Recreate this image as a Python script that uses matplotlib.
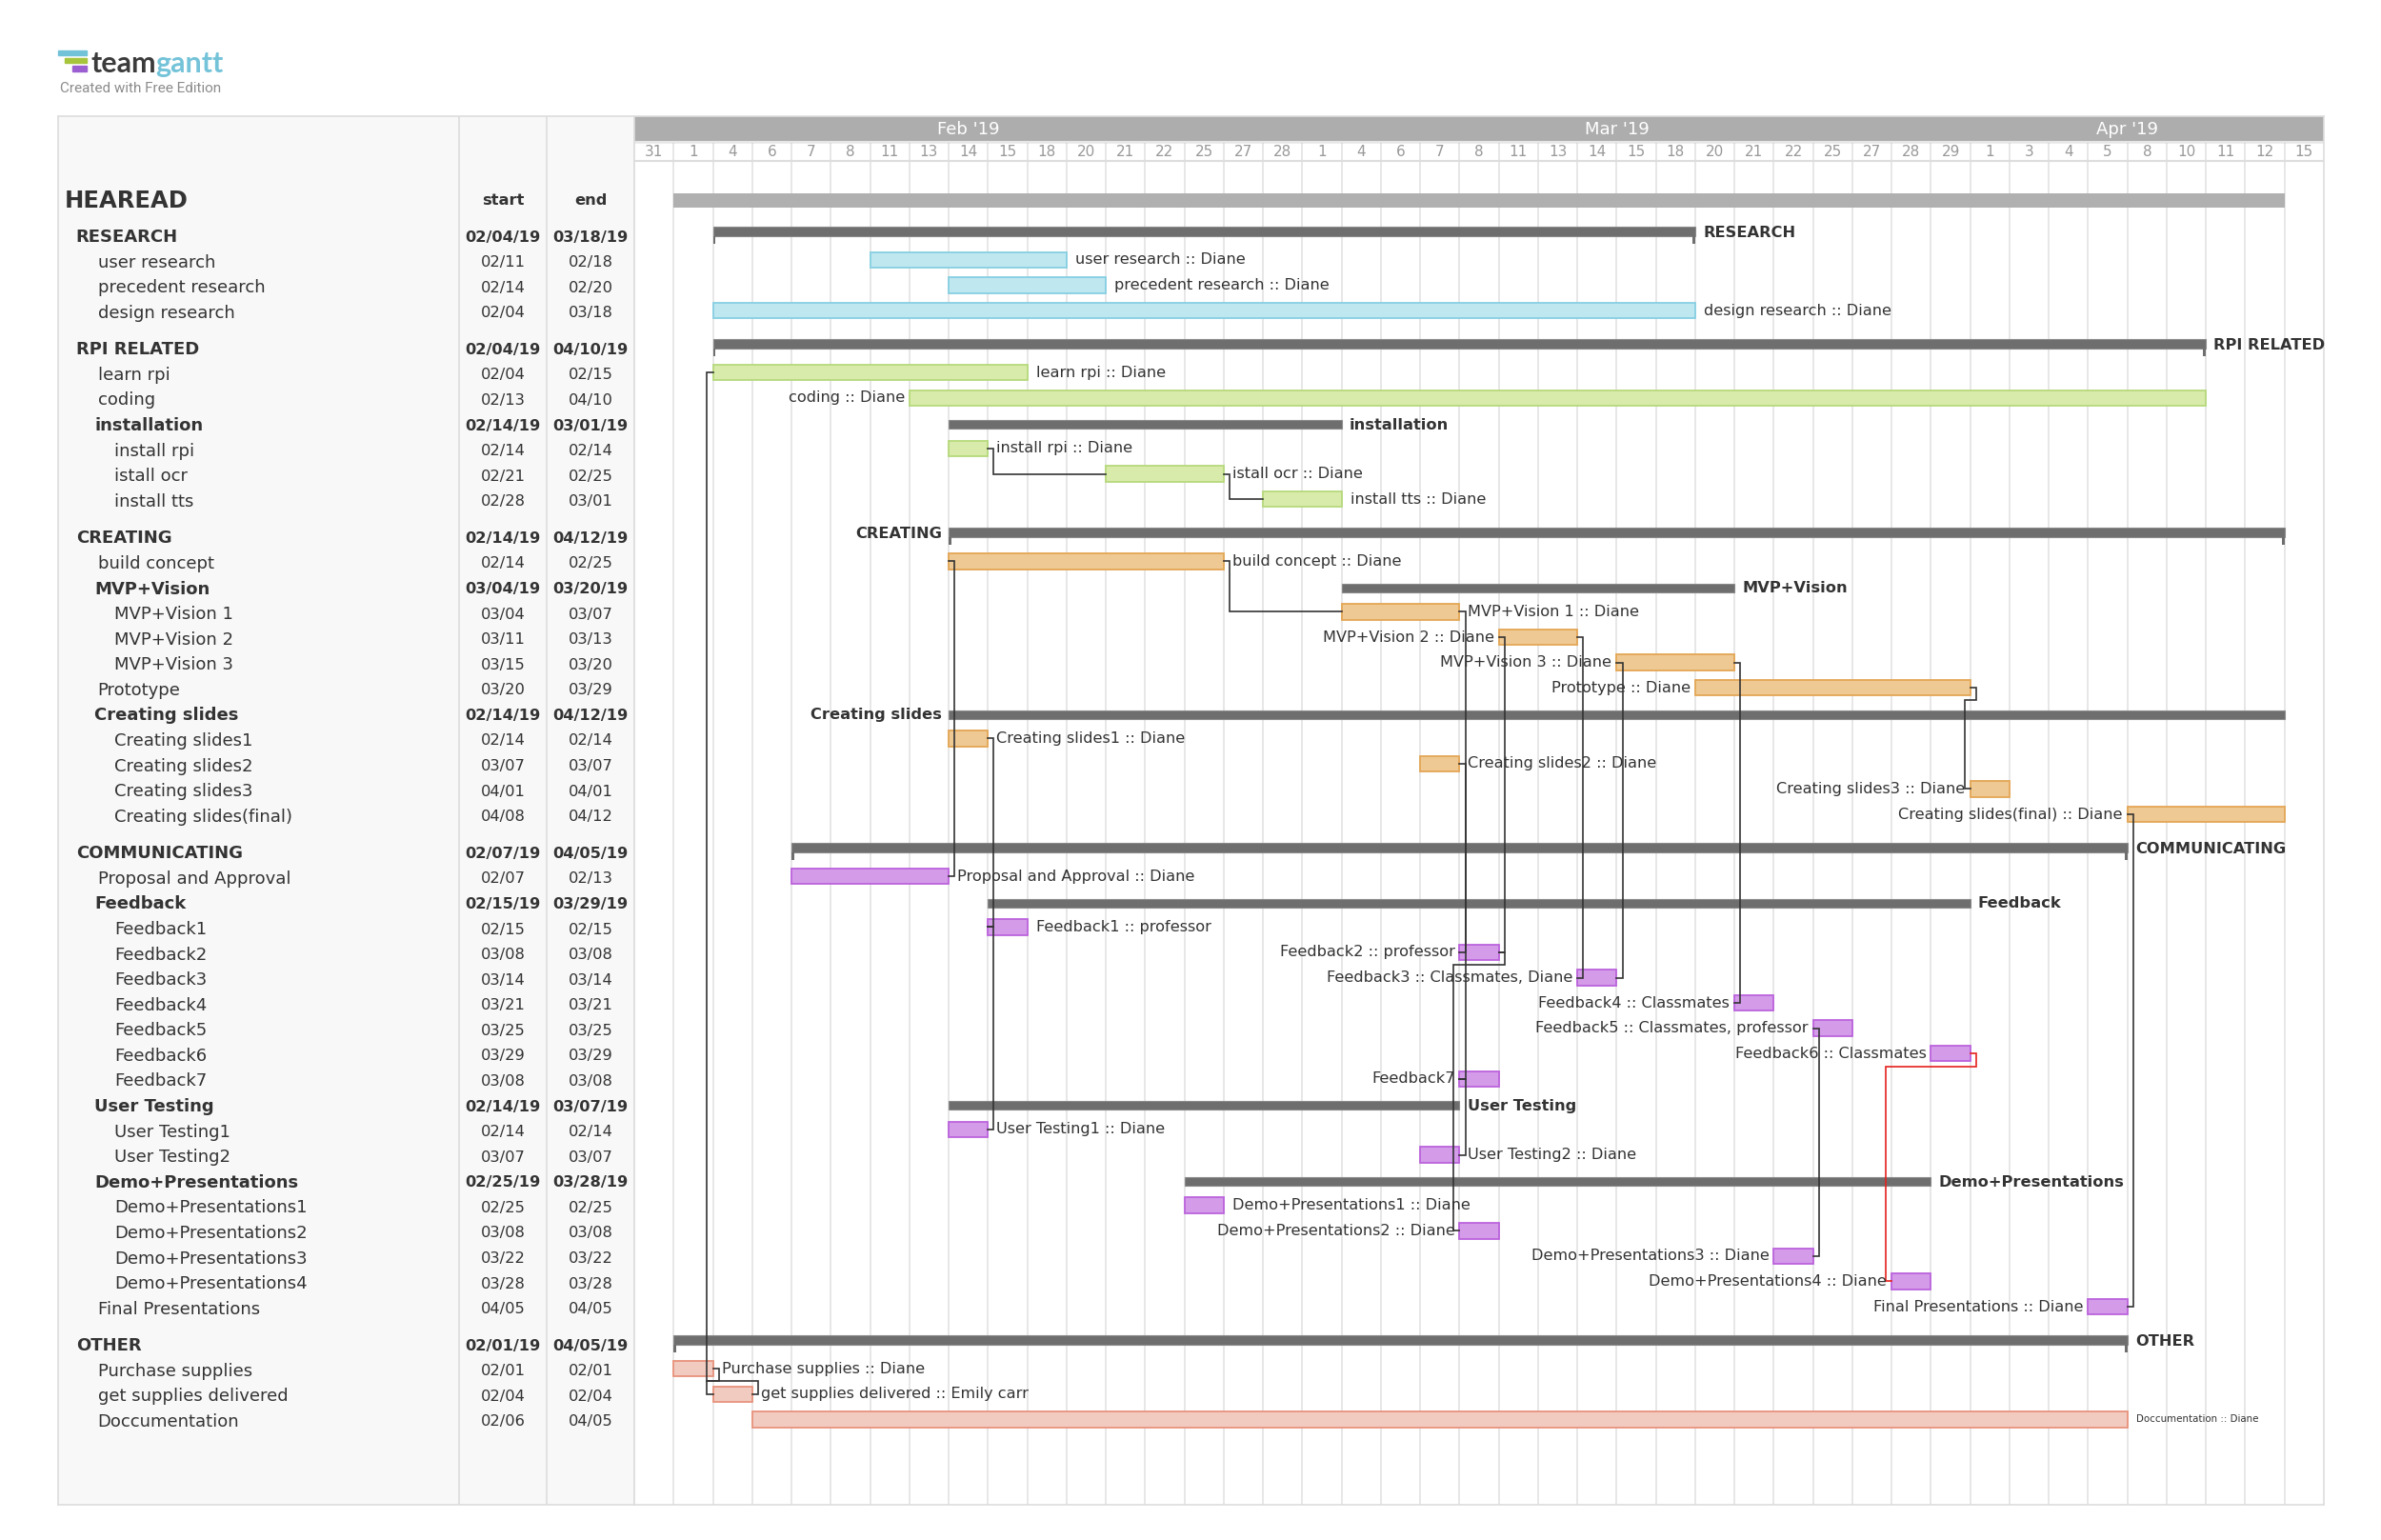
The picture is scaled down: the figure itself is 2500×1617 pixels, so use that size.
import matplotlib
matplotlib.use('Agg')
import matplotlib.pyplot as plt
from matplotlib.patches import Rectangle

# timeline columns (teamgantt only shows these dates)
col_dates = ['01/31', '02/01', '02/04', '02/06', '02/07', '02/08', '02/11', '02/13', '02/14', '02/15',
             '02/18', '02/20', '02/21', '02/22', '02/25', '02/27', '02/28',
             '03/01', '03/04', '03/06', '03/07', '03/08', '03/11', '03/13', '03/14', '03/15',
             '03/18', '03/20', '03/21', '03/22', '03/25', '03/27', '03/28', '03/29',
             '04/01', '04/03', '04/04', '04/05', '04/08', '04/10', '04/11', '04/12', '04/15']
month_names = ["Feb '19", "Mar '19", "Apr '19"]
month_pos = [8.5, 25.0, 38.0]

names = ['HEAREAD',
         'RESEARCH', 'user research', 'precedent research', 'design research',
         'RPI RELATED', 'learn rpi', 'coding', 'installation', 'install rpi', 'istall ocr', 'install tts',
         'CREATING', 'build concept', 'MVP+Vision', 'MVP+Vision 1', 'MVP+Vision 2', 'MVP+Vision 3',
         'Prototype', 'Creating slides', 'Creating slides1', 'Creating slides2', 'Creating slides3',
         'Creating slides(final)',
         'COMMUNICATING', 'Proposal and Approval', 'Feedback', 'Feedback1', 'Feedback2', 'Feedback3',
         'Feedback4', 'Feedback5', 'Feedback6', 'Feedback7', 'User Testing', 'User Testing1',
         'User Testing2', 'Demo+Presentations', 'Demo+Presentations1', 'Demo+Presentations2',
         'Demo+Presentations3', 'Demo+Presentations4', 'Final Presentations',
         'OTHER', 'Purchase supplies', 'get supplies delivered', 'Doccumentation']
kinds = ['P',
         'G', 'T1', 'T1', 'T1',
         'G', 'T1', 'T1', 'S', 'T2', 'T2', 'T2',
         'G', 'T1', 'S', 'T2', 'T2', 'T2',
         'T1', 'S', 'T2', 'T2', 'T2', 'T2',
         'G', 'T1', 'S', 'T2', 'T2', 'T2',
         'T2', 'T2', 'T2', 'T2', 'S', 'T2',
         'T2', 'S', 'T2', 'T2',
         'T2', 'T2', 'T1',
         'G', 'T1', 'T1', 'T1']
starts = ['02/01',
          '02/04', '02/11', '02/14', '02/04',
          '02/04', '02/04', '02/13', '02/14', '02/14', '02/21', '02/28',
          '02/14', '02/14', '03/04', '03/04', '03/11', '03/15',
          '03/20', '02/14', '02/14', '03/07', '04/01', '04/08',
          '02/07', '02/07', '02/15', '02/15', '03/08', '03/14',
          '03/21', '03/25', '03/29', '03/08', '02/14', '02/14',
          '03/07', '02/25', '02/25', '03/08',
          '03/22', '03/28', '04/05',
          '02/01', '02/01', '02/04', '02/06']
ends = ['04/12',
        '03/18', '02/18', '02/20', '03/18',
        '04/10', '02/15', '04/10', '03/01', '02/14', '02/25', '03/01',
        '04/12', '02/25', '03/20', '03/07', '03/13', '03/20',
        '03/29', '04/12', '02/14', '03/07', '04/01', '04/12',
        '04/05', '02/13', '03/29', '02/15', '03/08', '03/14',
        '03/21', '03/25', '03/29', '03/08', '03/07', '02/14',
        '03/07', '03/28', '02/25', '03/08',
        '03/22', '03/28', '04/05',
        '04/05', '02/01', '02/04', '04/05']
who = ['',
       '', 'Diane', 'Diane', 'Diane',
       '', 'Diane', 'Diane', '', 'Diane', 'Diane', 'Diane',
       '', 'Diane', '', 'Diane', 'Diane', 'Diane',
       'Diane', '', 'Diane', 'Diane', 'Diane', 'Diane',
       '', 'Diane', '', 'professor', 'professor', 'Classmates, Diane',
       'Classmates', 'Classmates, professor', 'Classmates', '', '', 'Diane',
       'Diane', '', 'Diane', 'Diane',
       'Diane', 'Diane', 'Diane',
       '', 'Diane', 'Emily carr', 'Diane']
sides = ['r',
         'r', 'r', 'r', 'r',
         'r', 'r', 'l', 'r', 'r', 'r', 'r',
         'l', 'r', 'r', 'r', 'l', 'l',
         'l', 'l', 'r', 'r', 'l', 'l',
         'r', 'r', 'r', 'r', 'l', 'l',
         'l', 'l', 'l', 'l', 'r', 'r',
         'r', 'r', 'r', 'l',
         'l', 'l', 'l',
         'r', 'r', 'r', 'r']

group_fill = {'RESEARCH': '#bfe7f0', 'RPI RELATED': '#d9ebaa', 'CREATING': '#efc994',
              'COMMUNICATING': '#d49be9', 'OTHER': '#f2cbc0'}
group_edge = {'RESEARCH': '#86cfe2', 'RPI RELATED': '#b6d97c', 'CREATING': '#e3a655',
              'COMMUNICATING': '#bb63dc', 'OTHER': '#e8927c'}

# dependencies: from, to, route (f = straight down/up, b = around), colour
links = [('Purchase supplies', 'get supplies delivered', 'b', '#333333'),
         ('get supplies delivered', 'learn rpi', 'b', '#333333'),
         ('install rpi', 'istall ocr', 'f', '#333333'),
         ('istall ocr', 'install tts', 'f', '#333333'),
         ('build concept', 'MVP+Vision 1', 'f', '#333333'),
         ('Proposal and Approval', 'build concept', 'f', '#333333'),
         ('Creating slides1', 'Feedback1', 'f', '#333333'),
         ('User Testing1', 'Feedback1', 'f', '#333333'),
         ('MVP+Vision 1', 'Feedback2', 'f', '#333333'),
         ('Creating slides2', 'Feedback7', 'f', '#333333'),
         ('User Testing2', 'Feedback7', 'f', '#333333'),
         ('Feedback2', 'Demo+Presentations2', 'b', '#333333'),
         ('Feedback2', 'MVP+Vision 2', 'f', '#333333'),
         ('MVP+Vision 2', 'Feedback3', 'f', '#333333'),
         ('Feedback3', 'MVP+Vision 3', 'f', '#333333'),
         ('MVP+Vision 3', 'Feedback4', 'f', '#333333'),
         ('Prototype', 'Creating slides3', 'b', '#333333'),
         ('Demo+Presentations3', 'Feedback5', 'f', '#333333'),
         ('Final Presentations', 'Creating slides(final)', 'f', '#333333'),
         ('Feedback6', 'Demo+Presentations4', 'b', '#e5211d')]

# ---- layout ----
W, H = 2500, 1617
ROW, Y0 = 26.58, 210.5
TOP, BOT = 122, 1580
ytop = (TOP - Y0) / ROW
ybot = (BOT - Y0) / ROW
TXT = '#333333'

fig = plt.figure(figsize=(W / 100, H / 100), dpi=100)
fig.patch.set_facecolor('white')


def fx(p):
    return p / W


def fy(p):
    return 1 - p / H


col = {d: i for i, d in enumerate(col_dates)}
ncol = len(col_dates)

row_y = []
y = 0.0
for i, k in enumerate(kinds):
    if i > 0:
        y += 1.45 if k == 'G' else 1.0
    row_y.append(y)

panel = fig.add_axes([fx(61), fy(BOT), fx(666) - fx(61), fy(TOP) - fy(BOT)])
tl = fig.add_axes([fx(666), fy(BOT), fx(2440) - fx(666), fy(TOP) - fy(BOT)])
for ax in (panel, tl):
    ax.set_ylim(ybot, ytop)
    ax.set_xticks([])
    ax.set_yticks([])
    for s in ax.spines.values():
        s.set_color('#dddddd')
        s.set_linewidth(1.2)
panel.set_xlim(0, 1)
panel.set_facecolor('#f8f8f8')
tl.set_xlim(0, ncol)

# ---- left table ----
panel.axvline(0.696, color='#dddddd', lw=1.2)
panel.axvline(0.848, color='#dddddd', lw=1.2)
indent = {'P': 0.0116, 'G': 0.031, 'S': 0.063, 'T1': 0.069, 'T2': 0.0975}
for i, name in enumerate(names):
    k = kinds[i]
    yy = row_y[i]
    if k == 'P':
        panel.text(indent[k], yy, name, fontsize=17.5, fontweight='bold', color=TXT, va='center')
        panel.text(0.772, yy, 'start', fontsize=11.7, fontweight='bold', color=TXT, va='center', ha='center')
        panel.text(0.924, yy, 'end', fontsize=11.7, fontweight='bold', color=TXT, va='center', ha='center')
    elif k in ('G', 'S'):
        panel.text(indent[k], yy, name, fontsize=13, fontweight='bold', color=TXT, va='center')
        panel.text(0.772, yy, starts[i] + '/19', fontsize=11.7, fontweight='bold', color=TXT, va='center', ha='center')
        panel.text(0.924, yy, ends[i] + '/19', fontsize=11.7, fontweight='bold', color=TXT, va='center', ha='center')
    else:
        panel.text(indent[k], yy, name, fontsize=13, color=TXT, va='center')
        panel.text(0.772, yy, starts[i], fontsize=11.7, color=TXT, va='center', ha='center')
        panel.text(0.924, yy, ends[i], fontsize=11.7, color=TXT, va='center', ha='center')

# ---- timeline header ----
mb = -2.30
db = -1.55
tl.add_patch(Rectangle((0, ytop), ncol, mb - ytop, color='#adadad', zorder=1))
for m, p in zip(month_names, month_pos):
    tl.text(p, (ytop + mb) / 2, m, color='white', fontsize=13, ha='center', va='center', zorder=2)
tl.axhline(mb, color='#e6e6e6', lw=1.5, zorder=1)
tl.axhline(db, color='#dddddd', lw=1.5, zorder=1)
for i, d in enumerate(col_dates):
    tl.text(i + 0.5, (mb + db) / 2, str(int(d[3:])), color='#999999', fontsize=11,
            ha='center', va='center')
tl.vlines(range(1, ncol), mb, ybot, color='#e3e3e3', lw=1.2, zorder=0)

# ---- bars ----
fill, edge = '#cccccc', '#999999'
ends_x = {}
starts_x = {}
for i, name in enumerate(names):
    k = kinds[i]
    yy = row_y[i]
    xs = col[starts[i]]
    xe = col[ends[i]] + 1
    starts_x[name] = xs
    ends_x[name] = xe
    if k == 'G':
        fill, edge = group_fill[name], group_edge[name]
    if k == 'P':
        tl.barh(yy, xe - xs, left=xs, height=0.55, color='#b0b0b0', zorder=2)
        continue
    if k == 'G':
        tl.barh(yy - 0.23, xe - xs, left=xs, height=0.37, color='#6e6e6e',
                edgecolor='#8a8a8a', lw=0.8, zorder=2)
        tl.barh(yy + 0.11, 0.07, left=xs, height=0.31, color='#6e6e6e', zorder=2)
        tl.barh(yy + 0.11, 0.07, left=xe - 0.07, height=0.31, color='#6e6e6e', zorder=2)
        ly, fs = yy - 0.17, 11.7
    elif k == 'S':
        tl.barh(yy - 0.05, xe - xs, left=xs, height=0.34, color='#6e6e6e',
                edgecolor='#8a8a8a', lw=0.8, zorder=2)
        ly, fs = yy - 0.02, 11.7
    if k in ('G', 'S'):
        if sides[i] == 'r':
            tl.text(xe + 0.2, ly, name, fontsize=fs, fontweight='bold', color=TXT, va='center', zorder=4)
        else:
            tl.text(xs - 0.17, ly, name, fontsize=fs, fontweight='bold', color=TXT, va='center',
                    ha='right', zorder=4)
        continue
    tl.barh(yy - 0.1, xe - xs, left=xs, height=0.62, color=fill, edgecolor=edge, lw=1.3, zorder=2)
    label = name + (' :: ' + who[i] if who[i] else '')
    fs = 7.4 if name == 'Doccumentation' else 11.6
    if sides[i] == 'r':
        tl.text(xe + 0.22, yy - 0.1, label, fontsize=fs, color=TXT, va='center', zorder=4)
    else:
        tl.text(xs - 0.12, yy - 0.1, label, fontsize=fs, color=TXT, va='center', ha='right', zorder=4)

# ---- dependency lines ----
ymap = {n: row_y[i] - 0.1 for i, n in enumerate(names)}
h = 0.15
for src, dst, route, c in links:
    xs, ys = ends_x[src], ymap[src]
    xt, yt = starts_x[dst], ymap[dst]
    if route == 'f':
        px = [xs, xs + h, xs + h, xt]
        py = [ys, ys, yt, yt]
    else:
        ym = ys + (0.5 if yt > ys else -0.5)
        px = [xs, xs + h, xs + h, xt - h, xt - h, xt]
        py = [ys, ys, ym, ym, yt, yt]
    tl.plot(px, py, color=c, lw=1.2, zorder=3, solid_joinstyle='miter')

# ---- logo ----
for (x0, x1, y0, y1, c) in [(61, 91, 53, 58, '#72c2d8'), (68, 91, 61, 66, '#a6c53d'),
                            (76, 91, 69, 75, '#9c5fd1')]:
    fig.add_artist(Rectangle((fx(x0), fy(y1)), fx(x1) - fx(x0), fy(y0) - fy(y1),
                             transform=fig.transFigure, color=c))
t1 = fig.text(fx(95), fy(76), 'team', fontsize=22, fontweight='bold', color='#3b3b3b',
              family='Lato', va='baseline')
r = fig.canvas.get_renderer()
bb = t1.get_window_extent(renderer=r)
fig.text(bb.x1 / W, fy(76), 'gantt', fontsize=22, fontweight='bold', color='#74c3d9',
         family='Lato', va='baseline')
fig.text(fx(63), fy(93), 'Created with Free Edition', fontsize=11, color='#8c8c8c',
         family='Roboto', va='center')

fig.savefig('out.png', dpi=100)
